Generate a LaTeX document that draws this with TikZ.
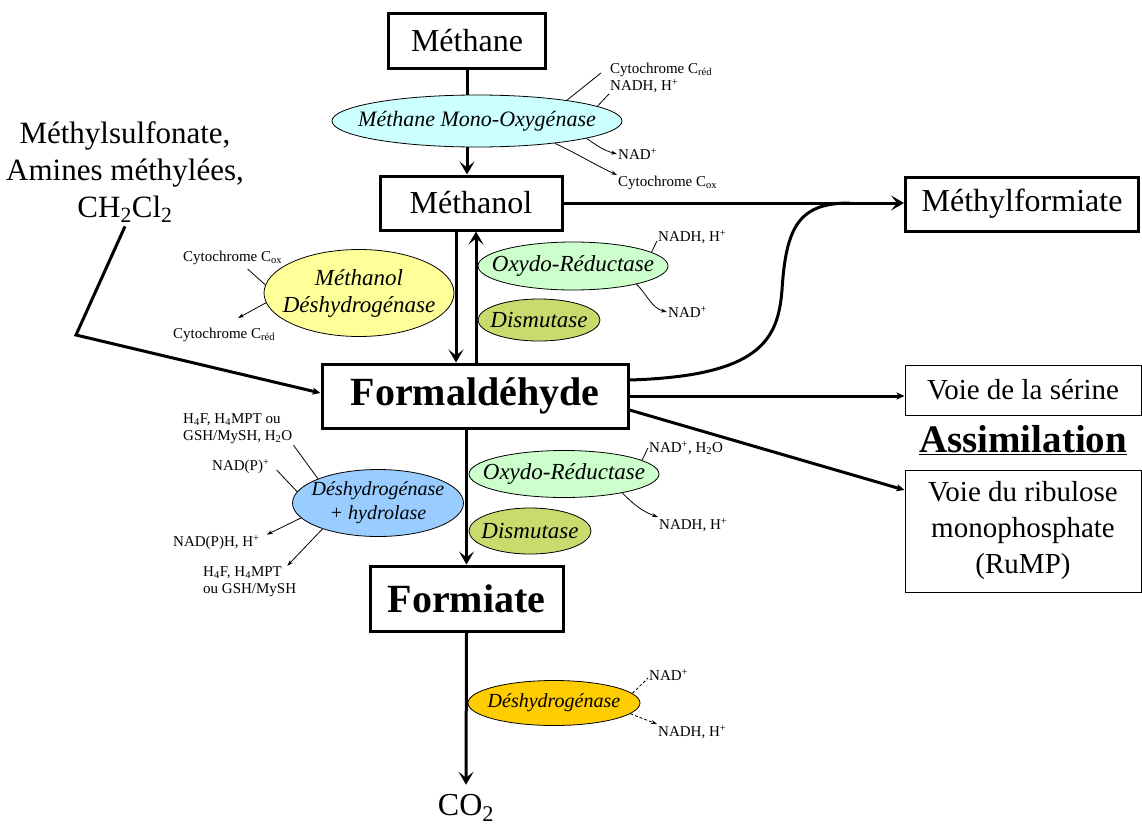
\documentclass[tikz,border=0pt]{standalone}
\usepackage{fontspec}
\setmainfont{Liberation Serif}
\usepackage{tikz}
\usetikzlibrary{shapes.geometric, arrows.meta}

\definecolor{mmo_fill}{HTML}{CCFFFF}
\definecolor{mdh_fill}{HTML}{FFFF99}
\definecolor{ox_fill}{HTML}{CCFFCC}
\definecolor{dis_fill}{HTML}{C8DC6E}
\definecolor{hyd_fill}{HTML}{99CCFF}
\definecolor{dh_fill}{HTML}{FFCC00}

\begin{document}
\begin{tikzpicture}[
    x=1pt, y=-1pt,
    box/.style={draw=black, line width=3pt, inner sep=0pt, font=\fontsize{32}{36}\selectfont},
    big_box/.style={box, font=\fontsize{40}{46}\selectfont\bfseries},
    path_box/.style={draw=black, line width=1pt, inner sep=0pt, align=center, font=\fontsize{29}{36}\selectfont},
    enz/.style={ellipse, draw=black, line width=0.8pt, inner xsep=-40pt, inner ysep=-8pt, align=center, font=\fontsize{23}{27}\selectfont\itshape},
    cofactor/.style={inner sep=1pt, font=\fontsize{15}{17}\selectfont},
    main_arrow/.style={line width=3pt, -{Stealth[length=13pt,width=15pt,inset=6pt]}},
    side_arrow/.style={line width=3pt, -{Stealth[length=8pt,width=7pt,inset=2pt]}},
    thin_line/.style={line width=0.8pt},
    thin_arrow/.style={line width=0.8pt, -{Stealth[length=6pt,width=4pt]}}
]
    \useasboundingbox (0,0) rectangle (1142,827);

    % Substrates and products
    \node (methane) [box, minimum width=157, minimum height=55] at (467,40.5) {Méthane};
    \node (methanol) [box, minimum width=182, minimum height=54] at (471,203) {Méthanol};
    \node (methylformiate) [box, minimum width=233, minimum height=54] at (1022,204) {Méthylformiate};
    \node (formaldehyde) [big_box, minimum width=306, minimum height=64] at (475,396) {Formaldéhyde};
    \node (formiate) [big_box, minimum width=193, minimum height=65] at (466.5,598.5) {Formiate};
    \node (sources) [align=center, font=\fontsize{31}{37}\selectfont] at (125,172) {Méthylsulfonate,\\Amines méthylées,\\CH\textsubscript{2}Cl\textsubscript{2}};
    \node (co2) [font=\fontsize{32}{36}\selectfont] at (466,808) {CO\textsubscript{2}};

    % Assimilation pathways
    \node (serine) [path_box, minimum width=236, minimum height=50] at (1023,390) {Voie de la sérine};
    \node (assimilation) [font=\fontsize{39}{44}\selectfont\bfseries] at (1023,440) {\underline{Assimilation}};
    \node (rump) [path_box, minimum width=236, minimum height=122] at (1023,531) {Voie du ribulose\\monophosphate\\(RuMP)};

    % Main arrows
    \draw [main_arrow] (methane.south) -- (methane.south |- methanol.north);
    \draw [main_arrow] ([xshift=-15pt]methanol.south) -- ([xshift=-15pt]methanol.south |- formaldehyde.north);
    \draw [main_arrow] ([xshift=5pt]methanol.south |- formaldehyde.north) -- ([xshift=5pt]methanol.south);
    \draw [main_arrow] (methanol.east) -- (methanol.east -| methylformiate.west);
    \coordinate (merge) at (850,203);
    \draw [line width=3pt] ([yshift=16pt]formaldehyde.east) .. controls (760,376) and (778,340) .. (782,290) .. controls (786,225) and (800,203) .. (merge);
    \draw [side_arrow] (formaldehyde.east) -- (formaldehyde.east -| serine.west);
    \draw [side_arrow] ([yshift=-14pt]formaldehyde.east) -- ([yshift=41pt]rump.west);
    \coordinate (bend) at (76,335);
    \draw [side_arrow] (sources.south) -- (bend) -- ([yshift=3pt]formaldehyde.west);
    \draw [main_arrow] (formiate.north |- formaldehyde.south) -- (formiate.north);
    \draw [main_arrow] (formiate.south) -- ([yshift=6pt]co2.north);

    % Enzymes
    \node (mmo) [enz, fill=mmo_fill, minimum width=290, minimum height=52, font=\fontsize{22}{26}\selectfont\itshape] at (477,121) {Méthane Mono-Oxygénase};
    \node (mdh) [enz, fill=mdh_fill, minimum width=190, minimum height=87] at (359,293) {Méthanol\\Déshydrogénase};
    \node (or1) [enz, fill=ox_fill, minimum width=190, minimum height=48] at (573,266) {Oxydo-Réductase};
    \node (dis1) [enz, fill=dis_fill, minimum width=122, minimum height=42] at (539,320) {Dismutase};
    \node (hyd) [enz, fill=hyd_fill, minimum width=171, minimum height=67, font=\fontsize{20}{24}\selectfont\itshape] at (378,503) {Déshydrogénase\\+ hydrolase};
    \node (or2) [enz, fill=ox_fill, minimum width=190, minimum height=47] at (564,474) {Oxydo-Réductase};
    \node (dis2) [enz, fill=dis_fill, minimum width=122, minimum height=46] at (530,531) {Dismutase};
    \node (dh2) [enz, fill=dh_fill, minimum width=172, minimum height=45, font=\fontsize{20}{24}\selectfont\itshape] at (554,703) {Déshydrogénase};

    % Cofactors of the MMO
    \node (cyt_red1) [cofactor, anchor=west] at (609,70) {Cytochrome C\textsubscript{réd}};
    \node (nadh1) [cofactor, anchor=west] at (609,86) {NADH, H\textsuperscript{+}};
    \node (nad1) [cofactor, anchor=west] at (617,154) {NAD\textsuperscript{+}};
    \node (cyt_ox1) [cofactor, anchor=west] at (617,183) {Cytochrome C\textsubscript{ox}};
    \draw [thin_line] (mmo.13) -- ([xshift=-8pt,yshift=-3pt]cyt_red1.west);
    \draw [thin_line] (mmo.7) -- (nadh1.south west);
    \draw [thin_arrow] (mmo.-9) to[out=-35, in=165] (nad1.west);
    \draw [thin_arrow] (mmo.-16) to[out=-25, in=155] (cyt_ox1.north west);

    % Cofactors of the MDH
    \node (cyt_ox2) [cofactor, anchor=west] at (182,258) {Cytochrome C\textsubscript{ox}};
    \node (cyt_red2) [cofactor, anchor=west] at (172,335) {Cytochrome C\textsubscript{réd}};
    \draw [thin_line] ([xshift=15pt,yshift=-3pt]cyt_ox2.south) -- (mdh.175);
    \draw [thin_arrow] (mdh.186) -- ([xshift=14pt,yshift=9pt]cyt_red2.north);

    % Cofactors of the oxydo-reductases
    \node (nadh2) [cofactor, anchor=west] at (657,237) {NADH, H\textsuperscript{+}};
    \node (nad2) [cofactor, anchor=west] at (667,312) {NAD\textsuperscript{+}};
    \draw [thin_line] (or1.10) -- ([yshift=-4pt]nadh2.west);
    \draw [thin_arrow] (or1.-16) to[out=-45, in=165] (nad2.west);
    \node (nad_h2o) [cofactor, anchor=west] at (648,448) {NAD\textsuperscript{+}, H\textsubscript{2}O};
    \node (nadh3) [cofactor, anchor=west] at (658,525) {NADH, H\textsuperscript{+}};
    \draw [thin_line] (or2.10) -- (nad_h2o.west);
    \draw [thin_arrow] (or2.-18) to[out=-45, in=160] (nadh3.north west);

    % Cofactors of the dehydrogenase + hydrolase
    \node (h4f_in) [cofactor, anchor=west, align=left] at (182,429) {H\textsubscript{4}F, H\textsubscript{4}MPT ou\\GSH/MySH, H\textsubscript{2}O};
    \node (nadp) [cofactor, anchor=west] at (211,467) {NAD(P)\textsuperscript{+}};
    \node (nadph) [cofactor, anchor=west] at (172,543) {NAD(P)H, H\textsuperscript{+}};
    \node (h4f_out) [cofactor, anchor=west, align=left] at (202,582) {H\textsubscript{4}F, H\textsubscript{4}MPT\\ou GSH/MySH};
    \draw [thin_line] (h4f_in.south east) -- (hyd.158);
    \draw [thin_line] ([xshift=6pt,yshift=-3pt]nadp.east) -- (hyd.172);
    \draw [thin_arrow] (hyd.191) -- ([xshift=6pt]nadph.north east);
    \draw [thin_arrow] (hyd.205) -- ([xshift=-10pt]h4f_out.north east);

    % Cofactors of the formate dehydrogenase
    \node (nad3) [cofactor, anchor=west] at (648,675) {NAD\textsuperscript{+}};
    \node (nadh4) [cofactor, anchor=west] at (657,732) {NADH, H\textsuperscript{+}};
    \draw [thin_line, dash pattern=on 3pt off 2pt] (dh2.7) -- ([yshift=-3pt]nad3.west);
    \draw [thin_arrow, dash pattern=on 3pt off 2pt] (dh2.-8) -- (nadh4.north west);
\end{tikzpicture}
\end{document}
